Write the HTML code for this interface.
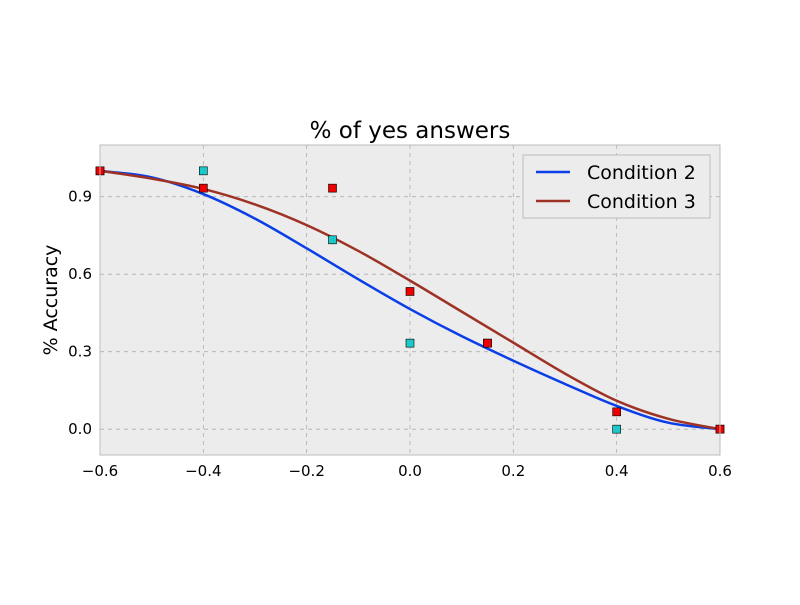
<!DOCTYPE html>
<html><head><meta charset="utf-8"><style>
body{margin:0;background:#fff;font-family:"Liberation Sans","DejaVu Sans",sans-serif}
svg text{font-family:"DejaVu Sans","Liberation Sans",sans-serif}
</style></head><body>
<svg id="chart" width="800" height="600" xmlns="http://www.w3.org/2000/svg"></svg>
<script>
const xTicks=[-0.6,-0.4,-0.2,0.0,0.2,0.4,0.6];
const xTickLabels=["\u22120.6","\u22120.4","\u22120.2","0.0","0.2","0.4","0.6"];
const yTicks=[0.0,0.3,0.6,0.9];
const yTickLabels=["0.0","0.3","0.6","0.9"];
const curveX=[-0.6,-0.5,-0.4,-0.3,-0.2,-0.1,0,0.1,0.2,0.3,0.4,0.5,0.6];
const cond2Curve=[1.0,0.975,0.91,0.815,0.70,0.58,0.465,0.36,0.265,0.175,0.09,0.025,0.0];
const cond3Curve=[1.0,0.97,0.93,0.87,0.79,0.69,0.575,0.455,0.335,0.215,0.11,0.04,0.0];
const cond2PtsX=[-0.6,-0.4,-0.15,0,0.15,0.4,0.6];
const cond2PtsY=[1.0,1.0,0.733,0.333,0.333,0.0,0.0];
const cond3PtsX=[-0.6,-0.4,-0.15,0,0.15,0.4,0.6];
const cond3PtsY=[1.0,0.933,0.933,0.533,0.333,0.067,0.0];

const L=100,R=720,T=145,B=455,xmin=-0.6,xmax=0.6,ymin=-0.1,ymax=1.1;
const sx=v=>L+(v-xmin)/(xmax-xmin)*(R-L);
const sy=v=>B-(v-ymin)/(ymax-ymin)*(B-T);
const svg=document.getElementById('chart');
const NS='http://www.w3.org/2000/svg';
function mk(tag,attrs,parent){const e=document.createElementNS(NS,tag);for(const k in attrs)e.setAttribute(k,attrs[k]);(parent||svg).appendChild(e);return e;}

let bg=mk('rect',{x:L,y:T,width:R-L,height:B-T,fill:'#ececec'});



xTicks.forEach((t,i)=>{
  const x=sx(t);
  const g=mk('line',{x1:x,x2:x,y1:T,y2:B,stroke:'#b0b0b0','stroke-dasharray':'4,4','stroke-width':0.8});
  
  
  const tx=mk('text',{x:x,y:B+21,'text-anchor':'middle','font-size':15,fill:'#000'});
  tx.textContent=xTickLabels[i];
  
  
});
yTicks.forEach((t,i)=>{
  const y=sy(t);
  const g=mk('line',{x1:L,x2:R,y1:y,y2:y,stroke:'#b0b0b0','stroke-dasharray':'4,4','stroke-width':0.8});
  
  
  const tx=mk('text',{x:L-8,y:y+5,'text-anchor':'end','font-size':15,fill:'#000'});
  tx.textContent=yTickLabels[i];
  
  
});

function smooth(xs,ys){
  const p=xs.map((x,i)=>[sx(x),sy(ys[i])]);
  let d='M'+p[0][0]+','+p[0][1];
  for(let i=0;i<p.length-1;i++){
    const p0=p[Math.max(i-1,0)],p1=p[i],p2=p[i+1],p3=p[Math.min(i+2,p.length-1)];
    const c1=[p1[0]+(p2[0]-p0[0])/6,p1[1]+(p2[1]-p0[1])/6];
    const c2=[p2[0]-(p3[0]-p1[0])/6,p2[1]-(p3[1]-p1[1])/6];
    d+=' C'+c1+' '+c2+' '+p2;
  }
  return d;
}
const l2=mk('path',{d:smooth(curveX,cond2Curve),fill:'none',stroke:'#0a3ee6','stroke-width':2.5});


const l3=mk('path',{d:smooth(curveX,cond3Curve),fill:'none',stroke:'#9e3325','stroke-width':2.5});



cond2PtsX.forEach((x,i)=>{
  const r=mk('rect',{x:sx(x)-4,y:sy(cond2PtsY[i])-4,width:8,height:8,fill:'#1cc9c9',stroke:'#000','stroke-width':0.6});
  
  
});
cond3PtsX.forEach((x,i)=>{
  const r=mk('rect',{x:sx(x)-4,y:sy(cond3PtsY[i])-4,width:8,height:8,fill:'#ee0000',stroke:'#000','stroke-width':0.6});
  
  
});

const fr=mk('rect',{x:L,y:T,width:R-L,height:B-T,fill:'none',stroke:'#bbb','stroke-width':1});



const title=mk('text',{x:410,y:138,'text-anchor':'middle','font-size':23,fill:'#000'});
title.textContent='% of yes answers';


const yl=mk('text',{x:57,y:300,'text-anchor':'middle','font-size':19,fill:'#000',transform:'rotate(-90 57 300)'});
yl.textContent='% Accuracy';



const lg=mk('g',{});


mk('rect',{x:523,y:155,width:187,height:63,fill:'#ececec',stroke:'#bbb','stroke-width':1},lg);
[['Condition 2','#0a3ee6',172],['Condition 3','#9e3325',201]].forEach(([n,c,y])=>{
  const e=mk('g',{},lg);
  
  
  mk('line',{x1:536,x2:570,y1:y,y2:y,stroke:c,'stroke-width':2.5},e);
  const t=mk('text',{x:587,y:y+7,'font-size':19,fill:'#000'},e);
  t.textContent=n;
});
</script>
</body></html>
